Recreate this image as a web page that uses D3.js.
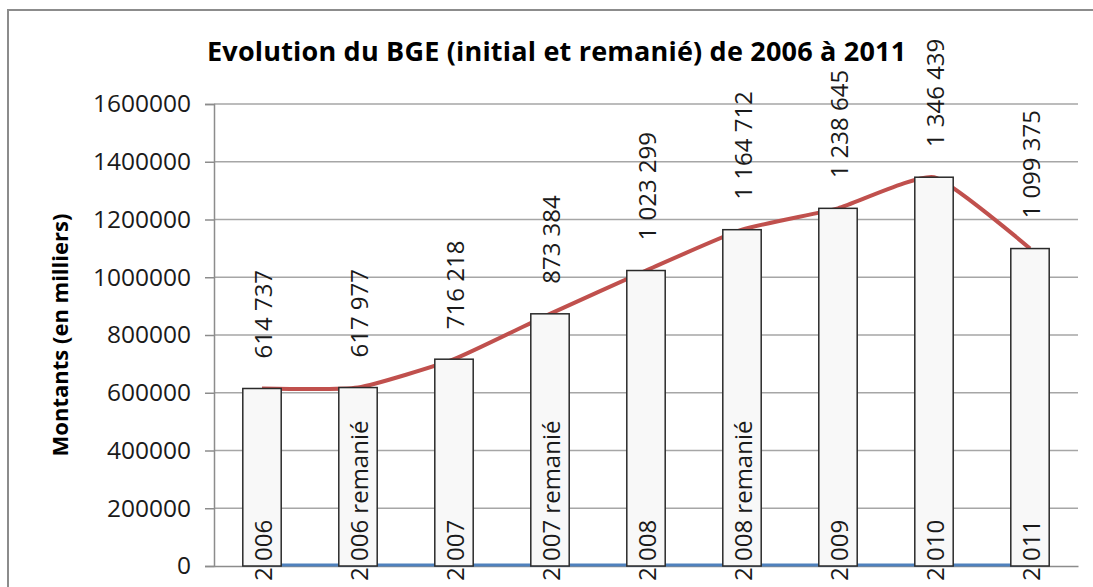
<!DOCTYPE html>
<html><head><meta charset="utf-8">
<script src="https://cdn.jsdelivr.net/npm/d3@7"></script>
<style>html,body{margin:0;padding:0;background:#fff;} svg{display:block;}</style>
</head><body>
<script>
const categories = ["2 006","2 006 remanié","2 007","2 007 remanié","2 008","2 008 remanié","2 009","2 010","2 011"];
const montants = [614737,617977,716218,873384,1023299,1164712,1238645,1346439,1099375];
const montantLabels = ["614 737","617 977","716 218","873 384","1 023 299","1 164 712","1 238 645","1 346 439","1 099 375"];
const zeroSeries = [0,0,0,0,0,0,0,0,0];
const yTicks = [0,200000,400000,600000,800000,1000000,1200000,1400000,1600000];
const title = "Evolution du BGE (initial et remanié) de 2006 à 2011";
const yTitle = "Montants (en milliers)";

const W = 1093, H = 587;
const m = {left:214, right:1078, top:104, bottom:566};
const FONT = "'Open Sans', sans-serif";

const svg = d3.select("body").append("svg").attr("width",W).attr("height",H);
svg.append("rect").attr("width",W).attr("height",H).attr("fill","#fff");
svg.append("rect").attr("x",8).attr("y",10).attr("width",1200).attr("height",700)
  .attr("fill","none").attr("stroke","#8c8c8c").attr("stroke-width",2);

const x = d3.scaleBand().domain(categories).range([m.left,m.right]).paddingInner(0.6).paddingOuter(0.3);
const y = d3.scaleLinear().domain([0,1600000]).range([m.bottom,m.top]);
const cx = c => x(c) + x.bandwidth()/2;

// gridlines
svg.append("g").selectAll("line").data(yTicks.filter(d=>d>0)).join("line")
  .attr("x1",m.left).attr("x2",m.right).attr("y1",d=>y(d)).attr("y2",d=>y(d))
  .attr("stroke","#a6a6a6").attr("stroke-width",1.5);

// y axis
const yAxis = svg.append("g").attr("transform",`translate(${m.left},0)`)
  .call(d3.axisLeft(y).tickValues(yTicks).tickFormat(d3.format("d")).tickSize(9).tickPadding(14));
yAxis.select(".domain").attr("stroke","#8c8c8c").attr("stroke-width",1.5);
yAxis.selectAll(".tick line").attr("stroke","#8c8c8c").attr("stroke-width",1.5);
yAxis.selectAll(".tick text").attr("font-family",FONT).attr("font-size",24.5).attr("fill","#1a1a1a");

// x axis line
const xAxis = svg.append("g").attr("transform",`translate(0,${m.bottom})`)
  .call(d3.axisBottom(x).tickSize(0).tickFormat(""));
xAxis.select(".domain").attr("stroke","#8c8c8c").attr("stroke-width",1.5);

// zero series line (blue)
const lineGen = d3.line().x((d,i)=>cx(categories[i])).y(d=>y(d));
svg.append("path").datum(zeroSeries).attr("d",lineGen)
  .attr("fill","none").attr("stroke","#4f81bd").attr("stroke-width",3).attr("transform","translate(0,-1)");

// red line (smoothed)
svg.append("path").datum(montants).attr("d",lineGen.curve(d3.curveCardinal.tension(0.5)))
  .attr("fill","none").attr("stroke","#c0504d").attr("stroke-width",4);

// bars
svg.append("g").selectAll("rect").data(montants).join("rect")
  .attr("x",(d,i)=>x(categories[i])).attr("width",x.bandwidth())
  .attr("y",d=>y(d)).attr("height",d=>y(0)-y(d))
  .attr("fill","#f8f8f8").attr("stroke","#2a2a2a").attr("stroke-width",1.5);

// category labels (rotated, inside bars)
svg.append("g").selectAll("text").data(categories).join("text")
  .attr("transform",d=>`translate(${cx(d)+1},581) rotate(-90)`)
  .attr("text-anchor","start").attr("dy","0.36em")
  .attr("font-family",FONT).attr("font-size",24).attr("fill","#1a1a1a")
  .text(d=>d);

// value labels
svg.append("g").selectAll("text").data(montants).join("text")
  .attr("transform",(d,i)=>`translate(${cx(categories[i])+1},${y(d)-30}) rotate(-90)`)
  .attr("text-anchor","start").attr("dy","0.36em")
  .attr("font-family",FONT).attr("font-size",24).attr("fill","#1a1a1a")
  .text((d,i)=>montantLabels[i]);

// title
svg.append("text").attr("x",207).attr("y",61)
  .attr("font-family",FONT).attr("font-weight","bold").attr("font-size",27).attr("letter-spacing",0.2).attr("fill","#000")
  .text(title);

// y title
svg.append("text").attr("transform",`translate(60,${(m.top+m.bottom)/2}) rotate(-90)`)
  .attr("text-anchor","middle").attr("dy","0.36em")
  .attr("font-family",FONT).attr("font-weight","bold").attr("font-size",22).attr("fill","#000")
  .text(yTitle);
</script>
</body></html>
